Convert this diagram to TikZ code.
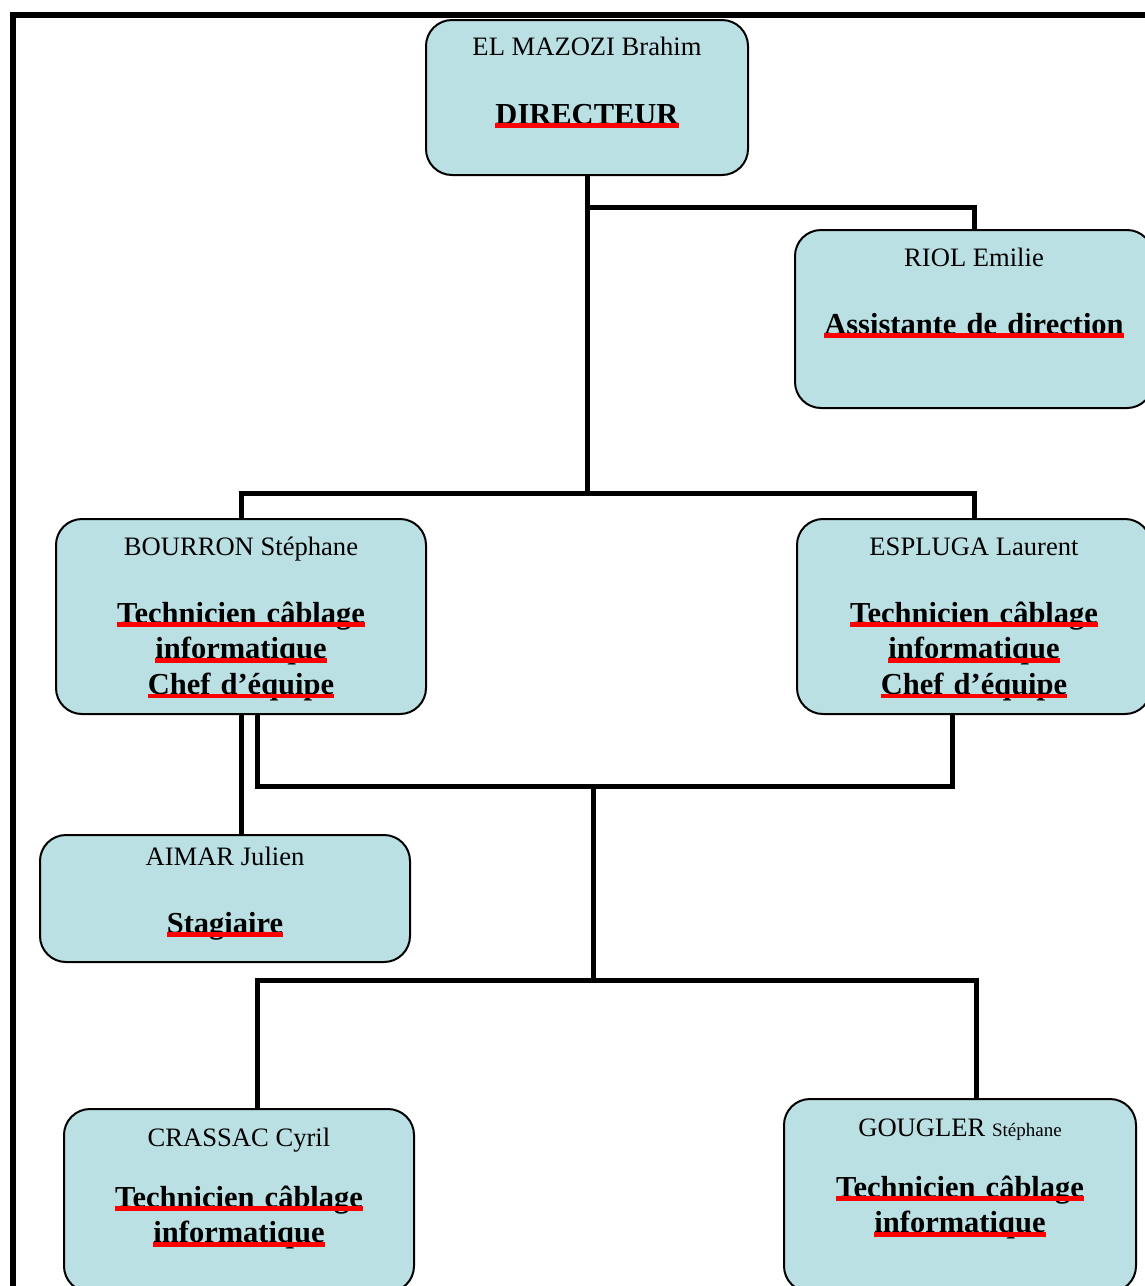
\documentclass[tikz,border=0pt]{standalone}
\usepackage{fontspec}
\setmainfont{Liberation Serif}

\definecolor{boite}{RGB}{187,224,227}
\definecolor{rouge}{RGB}{255,0,0}

% texte souligne en rouge
\newcommand{\sou}[1]{\mbox{\setbox0=\hbox{#1}\copy0\llap{\color{rouge}\rule[-2pt]{\wd0}{2.3pt}}}}

\begin{document}
\begin{tikzpicture}[x=0.5pt, y=-0.5pt,
    poste/.style={draw, fill=boite, line width=1pt, rounded corners=13pt, inner sep=0pt},
    nom/.style={font=\fontsize{13.3}{16}\selectfont, anchor=base, inner sep=0pt},
    titre/.style={font=\fontsize{15.25}{17.8}\selectfont\bfseries, anchor=base, align=center, text width=172pt, inner sep=0pt},
    lien/.style={line width=2.5pt},
    cadre/.style={line width=3pt}]

    \useasboundingbox (0,0) rectangle (1145,1286);
    \draw[cadre] (13,1300) -- (13,15) -- (1160,15);

    % postes
    \node[poste, minimum width=161pt, minimum height=77.5pt] (dir) at (587,97.5) {};
    \node[poste, minimum width=179pt, minimum height=89pt] (riol) at (974,319) {};
    \node[poste, minimum width=185pt, minimum height=97.5pt] (bourron) at (241,616.5) {};
    \node[poste, minimum width=177pt, minimum height=97.5pt] (espluga) at (974,616.5) {};
    \node[poste, minimum width=185pt, minimum height=63.5pt] (aimar) at (225,898.5) {};
    \node[poste, minimum width=175pt, minimum height=91.5pt] (crassac) at (239,1200.5) {};
    \node[poste, minimum width=176pt, minimum height=96.5pt] (gougler) at (960,1195.5) {};

    % noms
    \node[nom] (dir-nom) at ([yshift=-18.3pt]dir.north) {EL MAZOZI Brahim};
    \node[nom] (riol-nom) at ([yshift=-18.8pt]riol.north) {RIOL Emilie};
    \node[nom] (bourron-nom) at ([yshift=-18.8pt]bourron.north) {BOURRON Stéphane};
    \node[nom] (espluga-nom) at ([yshift=-18.8pt]espluga.north) {ESPLUGA Laurent};
    \node[nom] (aimar-nom) at ([yshift=-15.8pt]aimar.north) {AIMAR Julien};
    \node[nom] (crassac-nom) at ([yshift=-19.3pt]crassac.north) {CRASSAC Cyril};
    \node[nom] (gougler-nom) at ([yshift=-19.3pt]gougler.north) {GOUGLER {\fontsize{9.5}{11}\selectfont Stéphane}};

    % fonctions
    \node[titre] (dir-titre) at ([yshift=-52.5pt]dir.north) {\sou{DIRECTEUR}};
    \node[titre] (riol-titre) at ([yshift=-52.5pt]riol.north) {\sou{Assistante de direction}};
    \node[titre] (bourron-titre) at ([yshift=-52.5pt]bourron.north) {\sou{Technicien câblage}\\\sou{informatique}\\\sou{Chef d’équipe}};
    \node[titre] (espluga-titre) at ([yshift=-52.5pt]espluga.north) {\sou{Technicien câblage}\\\sou{informatique}\\\sou{Chef d’équipe}};
    \node[titre] (aimar-titre) at ([yshift=-49.5pt]aimar.north) {\sou{Stagiaire}};
    \node[titre] (crassac-titre) at ([yshift=-49.5pt]crassac.north) {\sou{Technicien câblage}\\\sou{informatique}};
    \node[titre] (gougler-titre) at ([yshift=-49.5pt]gougler.north) {\sou{Technicien câblage}\\\sou{informatique}};

    % liaisons
    \coordinate (b0) at (587,207);
    \coordinate (b1) at (587,493);
    \coordinate (b2) at (593,786);
    \coordinate (b3) at (593,980);

    \draw[lien] (dir.south) -- (b1);
    \draw[lien] (b0) -| (riol.north);
    \draw[lien] (bourron.north) |- (b1) -| (espluga.north);
    \draw[lien] (bourron.south) -- (bourron.south |- aimar.north);
    \draw[lien] ([xshift=8pt]bourron.south) |- (b2) -| ([xshift=-11pt]espluga.south);
    \draw[lien] (b2) -- (b3);
    \draw[lien] ([xshift=9pt]crassac.north) |- (b3) -| ([xshift=8pt]gougler.north);
\end{tikzpicture}
\end{document}
